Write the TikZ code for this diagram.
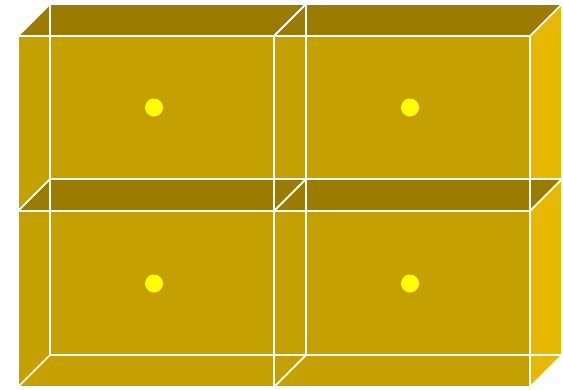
\documentclass[tikz,border=0pt]{standalone}
\definecolor{frontc}{RGB}{196,160,0}
\definecolor{topc}{RGB}{155,124,0}
\definecolor{sidec}{RGB}{230,185,0}
\definecolor{dotc}{RGB}{255,255,0}
\tikzset{
  edge/.style={draw=white, line width=1.6pt},
  dotnode/.style={circle, fill=dotc, minimum size=18pt, inner sep=0pt},
}
\begin{document}
\begin{tikzpicture}[x=1pt,y=-1pt]
\useasboundingbox (0,0) rectangle (563,389);
% box fills: #1 left x, #2 top y of front face; width 256, height 175/176, depth 32
\foreach \fx/\fy/\fh in {18/36/175, 274/36/175, 18/211/176, 274/211/176}{
  \pgfmathsetmacro{\rx}{\fx+256}
  \pgfmathsetmacro{\by}{\fy+\fh}
  \fill[topc] (\fx,\fy) -- (\fx+32,\fy-32) -- (\rx+32,\fy-32) -- (\rx,\fy) -- cycle;
  \fill[sidec] (\rx,\fy) -- (\rx+32,\fy-32) -- (\rx+32,\by-32) -- (\rx,\by) -- cycle;
  \fill[frontc] (\fx,\fy) rectangle (\rx,\by);
}
\foreach \fx/\fy/\fh in {18/36/175, 274/36/175, 18/211/176, 274/211/176}{
  \pgfmathsetmacro{\rx}{\fx+256}
  \pgfmathsetmacro{\by}{\fy+\fh}
  \draw[edge] (\fx,\fy) rectangle (\rx,\by);
  \draw[edge] (\fx+32,\fy-32) rectangle (\rx+32,\by-32);
  \draw[edge] (\fx,\fy) -- (\fx+32,\fy-32);
  \draw[edge] (\rx,\fy) -- (\rx+32,\fy-32);
  \draw[edge] (\fx,\by) -- (\fx+32,\by-32);
  \draw[edge] (\rx,\by) -- (\rx+32,\by-32);
}
\node[dotnode] (d1) at (154,107.5) {};
\node[dotnode] (d2) at (410,107.5) {};
\node[dotnode] (d3) at (154,283.5) {};
\node[dotnode] (d4) at (410,283.5) {};
\end{tikzpicture}
\end{document}
